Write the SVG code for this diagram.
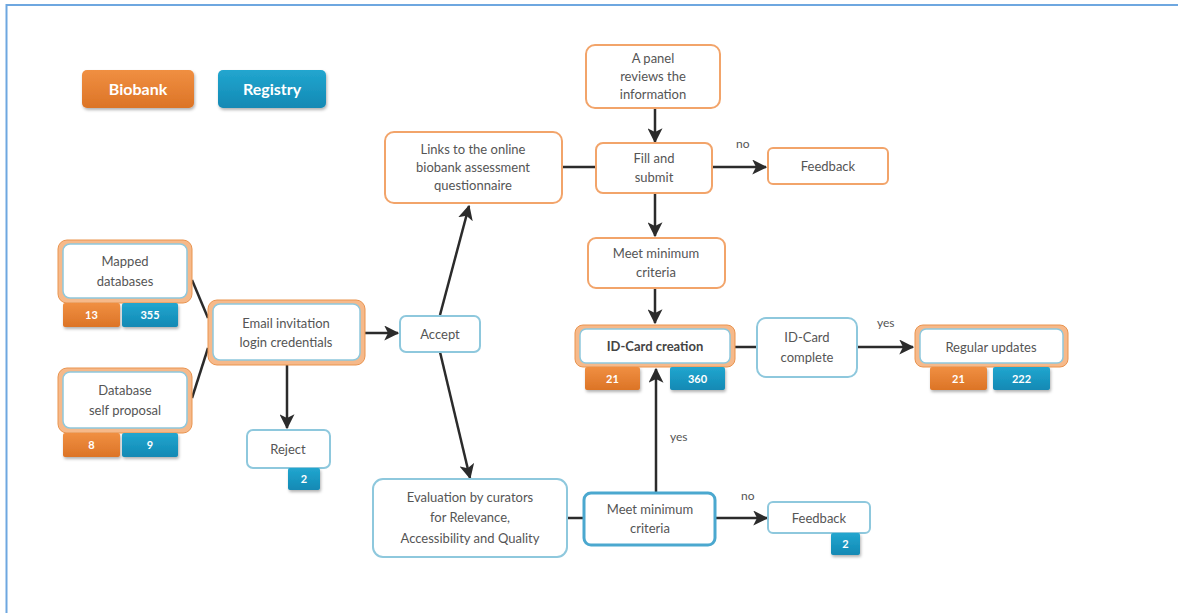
<svg xmlns="http://www.w3.org/2000/svg" width="1178" height="613" viewBox="0 0 1178 613">
  <style>
    text { font-family: Lato, "Open Sans", "Liberation Sans", sans-serif; fill: #555; font-size: 13px; text-anchor: middle; }
    .legend { fill: #fff; font-size: 16px; font-weight: bold; }
    .num { fill: #fff; font-size: 11px; font-weight: bold; }
    .lbl { font-size: 12px; text-anchor: start; }
    .bold { font-weight: bold; fill: #444; }
    .box-o { fill: #fff; stroke: #f2a46a; stroke-width: 2; }
    .box-b { fill: #fff; stroke: #8ec8dd; stroke-width: 2; }
    .box-bb { fill: #fff; stroke: #4ba8cf; stroke-width: 3; }
    .outer { fill: #f6b98a; stroke: #e9944f; stroke-width: 1; }
    .inner { fill: #fff; stroke: #8ec8dd; stroke-width: 1.5; }
    .bo { fill: url(#gOrange); filter: url(#shadow); }
    .bb { fill: url(#gBlue); filter: url(#shadow); }
    .edge { stroke: #2b2b2b; stroke-width: 2.5; fill: none; }
    .arrow { marker-end: url(#head); }
  </style>
  <defs>
    <linearGradient id="gOrange" x1="0" y1="0" x2="0" y2="1">
      <stop offset="0" stop-color="#f08f42"/>
      <stop offset="1" stop-color="#dc7426"/>
    </linearGradient>
    <linearGradient id="gBlue" x1="0" y1="0" x2="0" y2="1">
      <stop offset="0" stop-color="#22a6cf"/>
      <stop offset="1" stop-color="#1289b4"/>
    </linearGradient>
    <filter id="shadow" x="-20%" y="-20%" width="140%" height="160%">
      <feDropShadow dx="1" dy="2" stdDeviation="1.5" flood-color="#000" flood-opacity="0.3"/>
    </filter>
    <marker id="head" viewBox="0 0 12 12" refX="11" refY="6" markerWidth="6" markerHeight="6" markerUnits="strokeWidth" orient="auto">
      <path d="M0,0 L12,6 L0,12 L3,6 z" fill="#2b2b2b"/>
    </marker>
  </defs>

  <rect width="1178" height="613" fill="#fff"/>
  <!-- frame -->
  <line x1="6" y1="5" x2="1178" y2="5" stroke="#6ea7e0" stroke-width="2"/>
  <line x1="6.5" y1="4" x2="6.5" y2="613" stroke="#6ea7e0" stroke-width="2"/>

  <!-- legend -->
  <g id="legend-biobank">
    <rect x="82" y="70" width="112" height="38" rx="5" class="bo"/>
    <text x="138" y="95" class="legend">Biobank</text>
  </g>
  <g id="legend-registry">
    <rect x="218" y="70" width="108" height="38" rx="5" class="bb"/>
    <text x="272" y="95" class="legend">Registry</text>
  </g>

  <!-- connectors -->
  <g id="connectors">
    <line x1="192" y1="280" x2="208" y2="318" class="edge"/>
    <line x1="192" y1="398" x2="208" y2="348" class="edge"/>
    <line x1="365" y1="333" x2="398" y2="333" class="edge arrow"/>
    <line x1="287" y1="365" x2="287" y2="428" class="edge arrow"/>
    <line x1="440" y1="315" x2="469" y2="206" class="edge arrow"/>
    <line x1="440" y1="352" x2="470" y2="478" class="edge arrow"/>
    <line x1="562" y1="167" x2="596" y2="167" class="edge"/>
    <line x1="655" y1="108" x2="655" y2="142" class="edge arrow"/>
    <line x1="712" y1="167" x2="766" y2="167" class="edge arrow"/>
    <line x1="655" y1="193" x2="655" y2="236" class="edge arrow"/>
    <line x1="655" y1="288" x2="655" y2="323" class="edge arrow"/>
    <line x1="735" y1="347" x2="757" y2="347" class="edge"/>
    <line x1="857" y1="347" x2="913" y2="347" class="edge arrow"/>
    <line x1="567" y1="518" x2="583" y2="518" class="edge"/>
    <line x1="656" y1="492" x2="656" y2="369" class="edge arrow"/>
    <line x1="715" y1="518" x2="767" y2="518" class="edge arrow"/>
    <text x="736" y="148" class="lbl">no</text>
    <text x="877" y="327" class="lbl">yes</text>
    <text x="670" y="441" class="lbl">yes</text>
    <text x="741" y="500" class="lbl">no</text>
  </g>

  <g id="mapped-databases">
    <rect x="58" y="240" width="134" height="63" rx="9" class="outer"/>
    <rect x="63" y="244" width="124" height="54" rx="7" class="inner"/>
    <text x="125" y="266">Mapped</text>
    <text x="125" y="286">databases</text>
    <rect x="63" y="303" width="57" height="24" rx="2" class="bo"/>
    <text x="91.5" y="319" class="num">13</text>
    <rect x="122" y="303" width="56" height="24" rx="2" class="bb"/>
    <text x="150" y="319" class="num">355</text>
  </g>

  <g id="database-self-proposal">
    <rect x="58" y="368" width="134" height="65" rx="9" class="outer"/>
    <rect x="63" y="372" width="124" height="56" rx="7" class="inner"/>
    <text x="125" y="395">Database</text>
    <text x="125" y="415">self proposal</text>
    <rect x="63" y="433" width="57" height="24" rx="2" class="bo"/>
    <text x="91.5" y="449" class="num">8</text>
    <rect x="122" y="433" width="56" height="24" rx="2" class="bb"/>
    <text x="150" y="449" class="num">9</text>
  </g>

  <g id="email-invitation">
    <rect x="208" y="300" width="157" height="65" rx="9" class="outer"/>
    <rect x="213" y="304" width="147" height="56" rx="7" class="inner"/>
    <text x="286" y="328">Email invitation</text>
    <text x="286" y="347">login credentials</text>
  </g>

  <g id="reject">
    <rect x="247" y="430" width="83" height="38" rx="6" class="box-b"/>
    <text x="288" y="454">Reject</text>
    <rect x="288" y="468" width="32" height="22" rx="2" class="bb"/>
    <text x="304" y="483" class="num">2</text>
  </g>

  <g id="accept">
    <rect x="400" y="316" width="80" height="36" rx="6" class="box-b"/>
    <text x="440" y="339">Accept</text>
  </g>

  <g id="links-questionnaire">
    <rect x="385" y="132" width="177" height="71" rx="9" class="box-o"/>
    <text x="473" y="154">Links to the online</text>
    <text x="473" y="172">biobank assessment</text>
    <text x="473" y="190">questionnaire</text>
  </g>

  <g id="panel-review">
    <rect x="586" y="45" width="134" height="63" rx="9" class="box-o"/>
    <text x="653" y="63">A panel</text>
    <text x="653" y="81">reviews the</text>
    <text x="653" y="99">information</text>
  </g>

  <g id="fill-submit">
    <rect x="596" y="143" width="116" height="50" rx="7" class="box-o"/>
    <text x="654" y="163">Fill and</text>
    <text x="654" y="182">submit</text>
  </g>

  <g id="feedback-top">
    <rect x="768" y="148" width="120" height="36" rx="5" class="box-o"/>
    <text x="828" y="171">Feedback</text>
  </g>

  <g id="meet-criteria-top">
    <rect x="588" y="238" width="137" height="50" rx="8" class="box-o"/>
    <text x="656" y="258">Meet minimum</text>
    <text x="656" y="277">criteria</text>
  </g>

  <g id="id-card-creation">
    <rect x="575" y="325" width="160" height="42" rx="8" class="outer"/>
    <rect x="580" y="329" width="150" height="34" rx="6" class="inner"/>
    <text x="655" y="351" class="bold">ID-Card creation</text>
    <rect x="585" y="367" width="55" height="23" rx="2" class="bo"/>
    <text x="612.5" y="383" class="num">21</text>
    <rect x="670" y="367" width="55" height="23" rx="2" class="bb"/>
    <text x="697.5" y="383" class="num">360</text>
  </g>

  <g id="id-card-complete">
    <rect x="757" y="318" width="100" height="59" rx="9" class="box-b"/>
    <text x="807" y="342">ID-Card</text>
    <text x="807" y="362">complete</text>
  </g>

  <g id="regular-updates">
    <rect x="915" y="325" width="153" height="42" rx="8" class="outer"/>
    <rect x="920" y="329" width="143" height="34" rx="6" class="inner"/>
    <text x="991" y="352">Regular updates</text>
    <rect x="930" y="367" width="57" height="23" rx="2" class="bo"/>
    <text x="958.5" y="383" class="num">21</text>
    <rect x="993" y="367" width="57" height="23" rx="2" class="bb"/>
    <text x="1021.5" y="383" class="num">222</text>
  </g>

  <g id="evaluation-curators">
    <rect x="373" y="479" width="194" height="78" rx="10" class="box-b"/>
    <text x="470" y="502">Evaluation by curators</text>
    <text x="470" y="522">for Relevance,</text>
    <text x="470" y="543">Accessibility and Quality</text>
  </g>

  <g id="meet-criteria-bottom">
    <rect x="584" y="493" width="131" height="52" rx="7" class="box-bb"/>
    <text x="650" y="514">Meet minimum</text>
    <text x="650" y="533">criteria</text>
  </g>

  <g id="feedback-bottom">
    <rect x="768" y="502" width="102" height="31" rx="5" class="box-b"/>
    <text x="819" y="523">Feedback</text>
    <rect x="831" y="533" width="29" height="22" rx="2" class="bb"/>
    <text x="845.5" y="548" class="num">2</text>
  </g>
</svg>
